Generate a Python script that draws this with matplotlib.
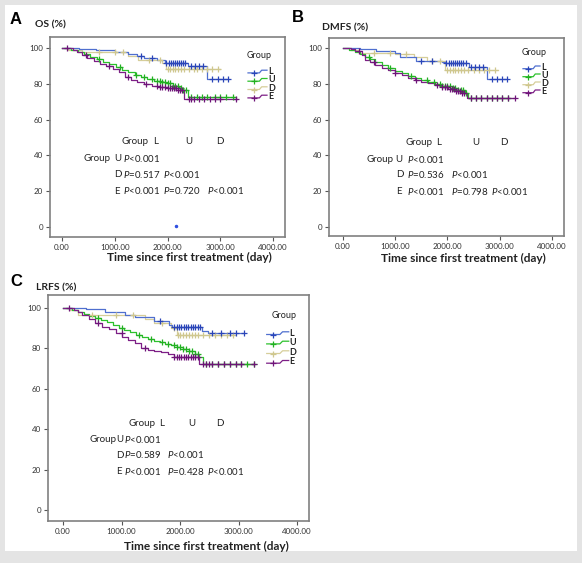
import matplotlib
matplotlib.use("Agg")
import matplotlib.pyplot as plt
import numpy as np
from matplotlib.patches import Rectangle
from matplotlib.transforms import Affine2D

plt.rcParams["font.family"] = ["Lato", "DejaVu Sans"]
plt.rcParams["mathtext.fontset"] = "custom"
plt.rcParams["mathtext.rm"] = "Lato"
plt.rcParams["mathtext.it"] = "Lato:italic"

W, H = 582, 563

GROUPS = ["L", "U", "D", "E"]
COLORS = {"L": "#4f6fcf", "U": "#2cc12c", "D": "#d6ce9a", "E": "#7d1f86"}
MARK_COLORS = {"L": "#2a45b8", "U": "#22b022", "D": "#cfc78e", "E": "#6e1478"}

# ---- Panel A: OS ----
A_L_t = [0, 330, 650, 1000, 1250, 1420, 1560, 1800, 1950, 2380, 2750, 3150]
A_L_s = [100, 99.3, 98.6, 97.8, 96.6, 95.5, 94.2, 93.0, 91.4, 90.0, 82.7, 82.7]
A_L_c = [1500, 1700, 1980, 2020, 2060, 2100, 2140, 2180, 2220, 2260, 2300, 2340,
         2450, 2530, 2600, 2680, 2850, 2950, 3050, 3140]
A_D_t = [0, 120, 380, 1250, 1450, 1900, 1980, 3000]
A_D_s = [100, 99.0, 97.8, 95.5, 93.3, 91.5, 88.0, 88.0]
A_D_c = [700, 1000, 1150, 1650, 1850, 2000, 2050, 2100, 2150, 2200, 2250, 2320,
         2400, 2500, 2560, 2650, 2750, 2850, 2950]
A_U_t = [0, 180, 300, 420, 540, 660, 780, 900, 1020, 1140, 1260, 1380, 1500, 1620,
         1740, 1860, 1980, 2100, 2220, 2300, 2380, 3300]
A_U_s = [100, 99.0, 97.8, 96.5, 95.0, 93.7, 92.4, 91.0, 89.3, 87.7, 86.3, 85.0, 83.8,
         82.6, 81.8, 81.2, 80.3, 78.8, 77.8, 76.5, 72.8, 72.8]
A_U_c = [700, 1100, 1400, 1550, 1700, 1800, 1850, 1900, 1950, 2000, 2050, 2100, 2150,
         2200, 2250, 2300, 2350, 2450, 2550, 2650, 2750, 2900, 3000, 3100, 3250]
A_E_t = [0, 200, 280, 380, 480, 600, 720, 840, 960, 1080, 1200, 1300, 1420, 1560,
         1700, 1850, 2000, 2200, 2320, 3310]
A_E_s = [100, 99.0, 97.8, 96.3, 94.6, 92.9, 91.2, 89.8, 88.0, 86.3, 84.0, 82.1, 80.8,
         80.0, 78.9, 78.0, 77.5, 76.5, 71.3, 71.3]
A_E_c = [100, 450, 900, 1250, 1600, 1800, 1850, 1900, 1950, 2000, 2040, 2080, 2120,
         2160, 2200, 2240, 2280, 2400, 2450, 2500, 2600, 2700, 2800, 2900, 3000, 3300]
A_stray = (2160, 0.7)
A_P = ["P<0.001", "P=0.517", "P<0.001", "P<0.001", "P=0.720", "P<0.001"]

# ---- Panel B: DMFS ----
B_L_t = [0, 330, 640, 1000, 1100, 1400, 1900, 1960, 2410, 2750, 3130]
B_L_s = [100, 99.3, 98.5, 97.0, 95.1, 92.9, 92.0, 91.4, 89.6, 82.5, 82.5]
B_L_c = [1500, 1700, 1980, 2020, 2060, 2100, 2140, 2180, 2220, 2260, 2300, 2360,
         2450, 2530, 2600, 2680, 2850, 2950, 3050, 3130]
B_D_t = [0, 150, 300, 1000, 1350, 1600, 1960, 2970]
B_D_s = [100, 99.0, 97.5, 96.5, 95.0, 92.5, 88.0, 88.0]
B_D_c = [600, 900, 1200, 1700, 1850, 2000, 2050, 2100, 2150, 2200, 2250, 2320, 2400,
         2500, 2600, 2700, 2800, 2900]
B_U_t = [0, 120, 230, 330, 420, 520, 612, 740, 868, 1000, 1123, 1250, 1378, 1500,
         1633, 1760, 1888, 2080, 2200, 2335, 2400, 3160]
B_U_s = [100, 99.0, 97.9, 96.5, 95.1, 93.8, 92.4, 90.5, 88.6, 87.2, 85.9, 84.5, 83.1,
         82.1, 81.2, 80.0, 78.8, 77.5, 76.3, 75.0, 71.9, 71.9]
B_U_c = [500, 900, 1300, 1600, 1750, 1850, 1900, 1950, 2000, 2050, 2100, 2150, 2200,
         2250, 2300, 2350, 2450, 2550, 2650, 2750, 2850, 2950, 3050, 3150]
B_E_t = [0, 150, 230, 357, 421, 520, 612, 740, 868, 1000, 1123, 1250, 1378, 1500,
         1633, 1760, 1888, 2016, 2150, 2270, 2365, 3290]
B_E_s = [100, 99.2, 98.5, 96.1, 93.5, 92.0, 90.5, 89.0, 87.7, 86.3, 84.9, 83.5, 82.1,
         81.2, 80.3, 79.3, 78.4, 76.9, 75.8, 74.7, 72.3, 72.3]
B_E_c = [300, 600, 1000, 1400, 1800, 1900, 1950, 2000, 2040, 2080, 2120, 2160, 2200,
         2240, 2280, 2320, 2450, 2550, 2650, 2750, 2850, 2950, 3050, 3150, 3290]
B_P = ["P<0.001", "P=0.536", "P<0.001", "P<0.001", "P=0.798", "P<0.001"]

# ---- Panel C: LRFS ----
C_L_t = [0, 390, 720, 1060, 1230, 1560, 1815, 1870, 2380, 2470, 3090]
C_L_s = [100, 99.3, 98.2, 96.5, 95.4, 93.7, 91.6, 90.8, 88.8, 87.5, 87.5]
C_L_c = [1650, 1900, 1940, 1980, 2020, 2060, 2100, 2140, 2180, 2220, 2260, 2300,
         2350, 2550, 2700, 2850, 2950, 3090]
C_D_t = [0, 100, 250, 1400, 1550, 1850, 1950, 2900]
C_D_s = [100, 99.0, 96.5, 94.5, 92.4, 90.0, 86.8, 86.8]
C_D_c = [500, 900, 1200, 1700, 1900, 1960, 2000, 2050, 2100, 2150, 2200, 2250, 2300,
         2400, 2500, 2600, 2700, 2800, 2900]
C_U_t = [0, 150, 250, 350, 450, 550, 650, 750, 850, 950, 1050, 1150, 1250, 1350, 1450,
         1550, 1650, 1750, 1850, 1950, 2050, 2150, 2250, 2330, 2390, 3270]
C_U_s = [100, 99.0, 98.0, 97.0, 96.0, 95.0, 93.8, 92.8, 91.5, 90.3, 89.0, 88.0, 86.8,
         85.8, 84.8, 83.8, 83.0, 82.2, 81.5, 80.5, 79.7, 78.5, 77.3, 75.5, 72.2, 72.2]
C_U_c = [600, 1000, 1300, 1500, 1700, 1800, 1900, 1950, 2000, 2050, 2100, 2150, 2200,
         2250, 2300, 2450, 2550, 2650, 2750, 2850, 2950, 3050, 3150, 3270]
C_E_t = [0, 180, 250, 330, 440, 555, 660, 780, 900, 1003, 1110, 1227, 1339, 1450,
         1563, 1680, 1787, 1899, 2330, 3270]
C_E_s = [100, 99.0, 98.2, 96.5, 94.4, 92.4, 90.8, 89.4, 87.8, 85.8, 84.0, 82.5, 80.0,
         79.3, 78.9, 78.0, 77.2, 75.9, 72.2, 72.2]
C_E_c = [100, 600, 1000, 1400, 1900, 1940, 1980, 2020, 2060, 2100, 2140, 2180, 2220,
         2260, 2300, 2400, 2450, 2500, 2550, 2650, 2750, 2850, 2950, 3050, 3270]
C_P = ["P<0.001", "P=0.589", "P<0.001", "P<0.001", "P=0.428", "P<0.001"]

X_TICKS = [0, 1000, 2000, 3000, 4000]
Y_TICKS = [0, 20, 40, 60, 80, 100]


fig = plt.figure(figsize=(W / 100, H / 100), dpi=100, facecolor="#e4e4e4")
PX = Affine2D().scale(1 / W, -1 / H).translate(0, 1) + fig.transFigure
fig.patches.append(Rectangle((5, 5), 572, 546, transform=PX, facecolor="white",
                             edgecolor="none", zorder=-5))


def txt(x, y, s, **kw):
    kw.setdefault("ha", "left")
    kw.setdefault("va", "center")
    kw.setdefault("fontsize", 7)
    kw.setdefault("color", "#222222")
    fig.text(x, y, s, transform=PX, **kw)


def pfmt(s):
    return r"$\mathit{P}$" + s[1:]


def km(ax, t, s, c, g):
    t = np.asarray(t, float)
    s = np.asarray(s, float)
    ax.step(t, s, where="post", color=COLORS[g], lw=0.9, zorder=3)
    c = np.asarray(c, float)
    idx = np.searchsorted(t, c, side="right") - 1
    ax.plot(c, s[idx], ls="none", marker="+", ms=4, mew=0.9,
            color=MARK_COLORS[g], zorder=4)


def panel(rect, xlim, ylim, curves):
    ax = fig.add_axes(rect)
    for g in ["D", "L", "U", "E"]:
        t, s, c = curves[g]
        km(ax, t, s, c, g)
    ax.set_xlim(xlim)
    ax.set_ylim(ylim)
    ax.set_xticks(X_TICKS)
    ax.set_xticklabels([f"{v:.2f}" for v in X_TICKS])
    ax.set_yticks(Y_TICKS)
    ax.set_yticklabels([str(v) for v in Y_TICKS])
    ax.tick_params(length=3, width=0.8, color="#555555", labelsize=5.8,
                   labelcolor="#333333", pad=2)
    for sp in ax.spines.values():
        sp.set_color("#808080")
        sp.set_linewidth(1.2)
    return ax


def legend(xg, yg, x0, w, ys):
    txt(xg, yg, "Group", fontsize=6.5)
    for g, y in zip(GROUPS, ys):
        xs = [x0, x0 + 0.6 * w, x0 + 0.72 * w, x0 + w]
        yy = [y + 1.2, y + 1.2, y - 1.5, y - 1.5]
        fig.add_artist(plt.Line2D(xs, yy, transform=PX, color=COLORS[g], lw=0.9))
        fig.add_artist(plt.Line2D([x0 + 0.3 * w], [y + 1.2], transform=PX, ls="none",
                                  marker="+", ms=4, mew=0.9, color=MARK_COLORS[g]))
        txt(x0 + w + 1, y, g, fontsize=6.5, fontweight="bold")


def table(hx, gx, ux, px, p2x, p3x, ys, pv):
    r0, r1, r2, r3 = ys
    txt(hx, r0, "Group")
    txt(hx + 31, r0, "L")
    txt(p2x + 22, r0, "U")
    txt(p3x + 9, r0, "D")
    txt(gx, r1, "Group")
    txt(ux, r1, "U")
    txt(px, r1, pfmt(pv[0]))
    txt(ux, r2, "D")
    txt(px, r2, pfmt(pv[1]))
    txt(p2x, r2, pfmt(pv[2]))
    txt(ux, r3, "E")
    txt(px, r3, pfmt(pv[3]))
    txt(p2x, r3, pfmt(pv[4]))
    txt(p3x, r3, pfmt(pv[5]))


# Panel A
axA = panel([50 / W, 1 - 237 / H, 235 / W, 200 / H], (-227, 4227), (-5.6, 106.1),
            {"L": (A_L_t, A_L_s, A_L_c), "U": (A_U_t, A_U_s, A_U_c),
             "D": (A_D_t, A_D_s, A_D_c), "E": (A_E_t, A_E_s, A_E_c)})
axA.plot([A_stray[0]], [A_stray[1]], ls="none", marker="o", ms=1.5, color="#3050e0")
txt(10, 19, "A", fontsize=12, fontweight="bold", family="Liberation Sans", color="black")
txt(35, 25, "OS (%)", fontsize=7.5, fontweight="bold")
txt(189.5, 257, "Time since first treatment (day)", ha="center", fontsize=8.6,
    fontweight="bold")
legend(247, 55, 248, 19, [71.7, 80, 88.3, 96.7])
table(122, 83, 114, 123, 163, 207, [141, 158.3, 174.5, 191], A_P)

# Panel B
axB = panel([329 / W, 1 - 236 / H, 235 / W, 198 / H], (-268, 4230), (-5.0, 105.6),
            {"L": (B_L_t, B_L_s, B_L_c), "U": (B_U_t, B_U_s, B_U_c),
             "D": (B_D_t, B_D_s, B_D_c), "E": (B_E_t, B_E_s, B_E_c)})
txt(292, 17.5, "B", fontsize=12, fontweight="bold", family="Liberation Sans",
    color="black")
txt(322, 28, "DMFS (%)", fontsize=7.5, fontweight="bold")
txt(463.5, 258, "Time since first treatment (day)", ha="center", fontsize=8.6,
    fontweight="bold")
legend(521.7, 52.7, 523, 17, [67.5, 75.5, 83.5, 91.5])
table(405, 366.7, 395.7, 406.7, 450.7, 491, [142.7, 159.3, 174.7, 191.7], B_P)

# Panel C
axC = panel([48 / W, 1 - 521 / H, 261 / W, 226 / H], (-257, 4205), (-5.4, 106.4),
            {"L": (C_L_t, C_L_s, C_L_c), "U": (C_U_t, C_U_s, C_U_c),
             "D": (C_D_t, C_D_s, C_D_c), "E": (C_E_t, C_E_s, C_E_c)})
txt(10, 282, "C", fontsize=12, fontweight="bold", family="Liberation Sans",
    color="black")
txt(36, 288, "LRFS (%)", fontsize=7.5, fontweight="bold")
txt(206.5, 546.5, "Time since first treatment (day)", ha="center", fontsize=8.6,
    fontweight="bold")
legend(271.7, 315, 266.7, 22, [333.3, 342.7, 352.3, 362])
table(128.3, 89.3, 116.4, 124, 166.7, 207.3, [423.3, 439.3, 455, 471.7], C_P)

fig.savefig("out.png", dpi=100, facecolor=fig.get_facecolor())
